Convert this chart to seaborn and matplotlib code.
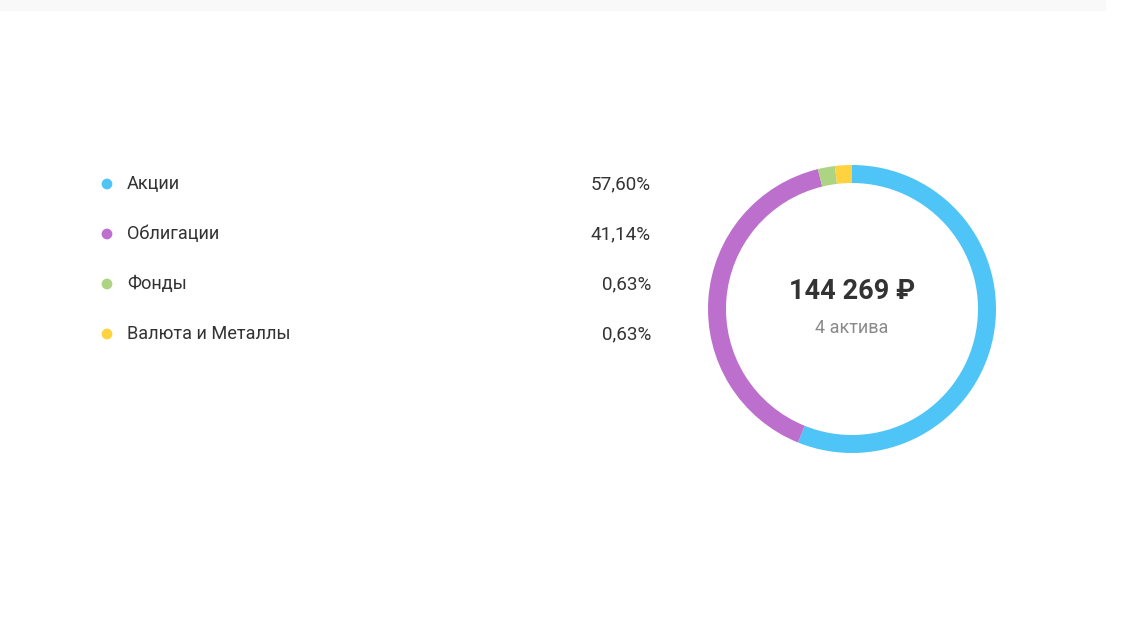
import matplotlib
matplotlib.use('Agg')
import matplotlib.pyplot as plt
import seaborn as sns
import pandas as pd
from matplotlib.patches import Rectangle

# chart data
categories = ['Акции', 'Облигации', 'Фонды', 'Валюта и Металлы']
shares = [57.60, 41.14, 0.63, 0.63]
colors = ['#4fc4f6', '#bc6fcc', '#acd483', '#ffd240']
total_label = '144 269 ₽'
count_label = '4 актива'

sns.set_theme(style='white')
plt.rcParams['font.family'] = ['Roboto', 'DejaVu Sans']

W, H = 1136, 639
fig = plt.figure(figsize=(W / 100, H / 100), dpi=100)
fig.patch.set_facecolor('white')

# faint band along the top edge
fig.patches.append(Rectangle((0, 1 - 10 / H), 1105 / W, 10 / H,
                             transform=fig.transFigure, color='#f9f9f9', zorder=0))

# left side: legend list in pixel coordinates
ax_list = fig.add_axes([0, 0, 1, 1])
ax_list.set_xlim(0, W)
ax_list.set_ylim(H, 0)
ax_list.axis('off')

row_y = [184 + 50 * i for i in range(len(categories))]
df = pd.DataFrame({'cat': categories, 'x': [107] * len(categories), 'y': row_y})
sns.scatterplot(data=df, x='x', y='y', hue='cat', palette=colors, s=60,
                edgecolor='none', legend=False, ax=ax_list)
for cat, share, y in zip(categories, shares, row_y):
    ax_list.text(127, y, cat, fontsize=13.1, color='#333333', va='center', ha='left')
    ax_list.text(651, y, f'{share:.2f}%'.replace('.', ','), fontsize=13.6,
                 color='#333333', va='center', ha='right')

# right side: donut (small slices get a minimum visible size)
cx, cy, r = 852, 309, 144
ax_pie = fig.add_axes([(cx - r) / W, (H - cy - r) / H, 2 * r / W, 2 * r / H])
min_share = 1.9
small = [s < min_share for s in shares]
big_total = sum(s for s, m in zip(shares, small) if not m)
rest = 100 - min_share * sum(small)
display = [min_share if m else s / big_total * rest for s, m in zip(shares, small)]
ax_pie.pie(display, colors=colors, startangle=90, counterclock=False, radius=1,
           wedgeprops=dict(width=18 / r, edgecolor='none'))
ax_pie.set_xlim(-1, 1)
ax_pie.set_ylim(-1, 1)
ax_pie.set_aspect('equal')
ax_pie.axis('off')

ax_pie.text(0, 0.12, total_label, fontsize=19.5, fontweight='bold', color='#333333',
            ha='center', va='center')
ax_pie.text(0, -0.13, count_label, fontsize=13, color='#8a8a8a',
            ha='center', va='center')

fig.savefig('out.png', dpi=100, facecolor='white')
plt.close(fig)
